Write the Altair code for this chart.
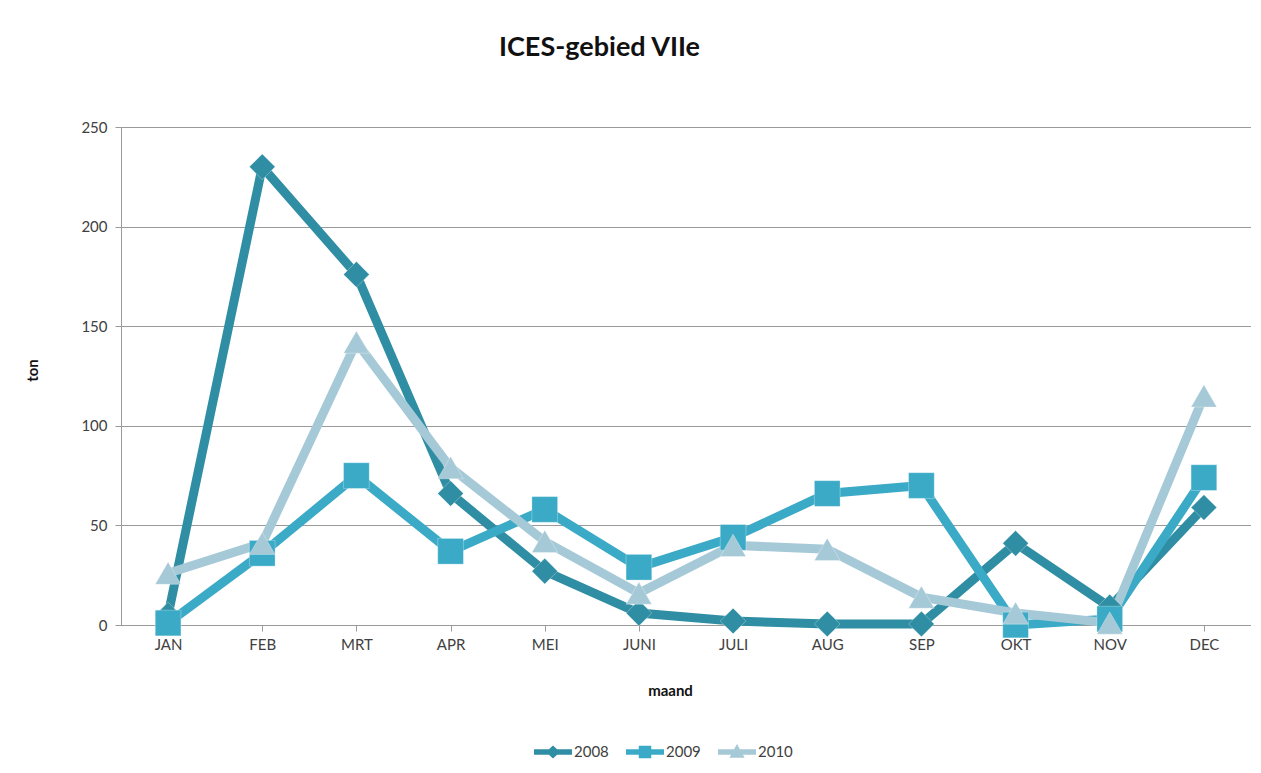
import altair as alt
import pandas as pd

months = ["JAN", "FEB", "MRT", "APR", "MEI", "JUNI", "JULI", "AUG", "SEP", "OKT", "NOV", "DEC"]
years = ["2008", "2009", "2010"]
v2008 = [5, 230, 176, 66, 27, 6, 2, 0.5, 0.5, 41, 9, 59]
v2009 = [1, 36, 75, 37, 58, 29, 44, 66, 70, 0, 3, 74]
v2010 = [26, 41, 142, 79, 42, 16, 40, 38, 14, 6, 1, 115]
colors = ["#2f8ea3", "#3aaac6", "#a6c9d7"]
shapes = ["diamond", "square", "triangle-up"]
y_ticks = [0, 50, 100, 150, 200, 250]

rows = []
for yr, vals in zip(years, [v2008, v2009, v2010]):
    for i, (m, v) in enumerate(zip(months, vals)):
        rows.append({"maand": m, "ton": v, "jaar": yr, "order": i})
df = pd.DataFrame(rows)

FONT = "Lato"

# legend glyphs: line segment with marker
bar = "M-1,-0.15L1,-0.15L1,0.15L-1,0.15Z"
glyph_2008 = bar + "M-0.37,0L0,-0.34L0.37,0L0,0.34Z"
glyph_2009 = bar + "M-0.33,-0.33L0.33,-0.33L0.33,0.33L-0.33,0.33Z"
glyph_2010 = bar + "M-0.4,0.3L0,-0.42L0.4,0.3Z"
shape_expr = ("datum.value === '2008' ? '%s' : (datum.value === '2009' ? '%s' : '%s')"
              % (glyph_2008, glyph_2009, glyph_2010))

x_enc = alt.X("maand:N", sort=months, scale=alt.Scale(paddingInner=0, paddingOuter=0),
              axis=alt.Axis(title="maand", labelAngle=0, bandPosition=0, grid=False,
                            domainColor="#9a9a9a", tickColor="#9a9a9a", tickSize=6,
                            labelFont=FONT, labelFontSize=15, labelColor="#404040",
                            labelPadding=6,
                            titleFont=FONT, titleFontSize=15, titleFontWeight="bold",
                            titleColor="#111111", titleX=549, titleY=65,
                            titleBaseline="middle", titleAnchor="start", titleAlign="center"))
y_enc = alt.Y("ton:Q", scale=alt.Scale(domain=[0, 250], nice=False),
              axis=alt.Axis(title="ton", values=y_ticks, grid=True, gridColor="#9a9a9a",
                            gridWidth=1, domainColor="#9a9a9a", tickColor="#9a9a9a",
                            tickSize=6, labelFont=FONT, labelFontSize=15, labelColor="#404040",
                            labelPadding=8,
                            titleFont=FONT, titleFontSize=15, titleFontWeight="bold",
                            titleColor="#111111", titleX=-89, titleY=243,
                            titleBaseline="middle", titleAnchor="start", titleAlign="center"))
legend = alt.Legend(title=None, orient="none", direction="horizontal",
                    legendX=413, legendY=606, columns=3,
                    labelFont=FONT, labelFontSize=15, labelColor="#404040",
                    symbolSize=1444, symbolStrokeWidth=0, columnPadding=17,
                    labelOffset=2, padding=0,
                    symbolType=alt.ExprRef(expr=shape_expr))
color_enc = alt.Color("jaar:N", scale=alt.Scale(domain=years, range=colors), legend=legend)

layers = []
for yr in years:
    d = df[df["jaar"] == yr]
    line = alt.Chart(d).mark_line(strokeWidth=9).encode(
        x=x_enc, y=y_enc, color=color_enc, order="order:Q")
    layers.append(line)
for yr, shp in zip(years, shapes):
    d = df[df["jaar"] == yr]
    pts = alt.Chart(d).mark_point(filled=True, size=660, opacity=1, shape=shp, stroke="#ffffff",
                                  strokeWidth=0.6, strokeOpacity=0.5).encode(
        x=x_enc, y=y_enc, color=color_enc)
    layers.append(pts)

chart = alt.layer(*layers).properties(
    width=1130, height=498,
    title=alt.TitleParams("ICES-gebied VIIe", anchor="start", frame="group", dx=378,
                          offset=58, font=FONT, fontSize=27, fontWeight="bold", color="#111111"),
    autosize=alt.AutoSizeParams(type="none"),
    padding={"left": 113, "top": 119, "right": 0, "bottom": 135},
).configure_view(stroke=None).configure(background="#ffffff")

chart.save("out.html", embed_options={"renderer": "svg", "actions": False})
